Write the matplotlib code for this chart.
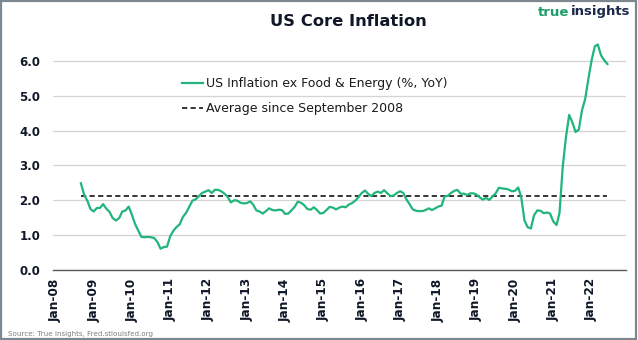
#!/usr/bin/env python3
"""US core inflation (CPI ex food & energy, YoY) vs its post-2008 average."""

import matplotlib
matplotlib.use("Agg")
import matplotlib.pyplot as plt
import pandas as pd
from matplotlib.patches import Rectangle

# Monthly YoY core CPI, Sep 2008 - Jun 2022
START_MONTH = "2008-09-01"
CORE_CPI_YOY = [
    2.49, 2.17, 1.99, 1.75,                                                    # 2008
    1.68, 1.78, 1.78, 1.89, 1.76, 1.67, 1.49, 1.42, 1.49, 1.68, 1.71, 1.82,  # 2009
    1.58, 1.31, 1.14, 0.95, 0.94, 0.95, 0.94, 0.92, 0.80, 0.61, 0.66, 0.67,  # 2010
    0.97, 1.13, 1.23, 1.31, 1.52, 1.64, 1.81, 1.99, 2.03, 2.12, 2.21, 2.25,  # 2011
    2.29, 2.21, 2.30, 2.30, 2.26, 2.19, 2.10, 1.94, 2.00, 1.99, 1.93, 1.91,  # 2012
    1.92, 1.97, 1.88, 1.71, 1.68, 1.62, 1.69, 1.77, 1.72, 1.71, 1.73, 1.72,  # 2013
    1.61, 1.62, 1.71, 1.81, 1.96, 1.93, 1.86, 1.75, 1.73, 1.80, 1.72, 1.62,  # 2014
    1.64, 1.73, 1.81, 1.79, 1.74, 1.79, 1.82, 1.80, 1.88, 1.92, 1.99, 2.09,  # 2015
    2.21, 2.28, 2.19, 2.12, 2.21, 2.25, 2.21, 2.29, 2.20, 2.12, 2.14, 2.21,  # 2016
    2.26, 2.21, 2.03, 1.89, 1.74, 1.70, 1.69, 1.69, 1.72, 1.77, 1.72, 1.77,  # 2017
    1.82, 1.85, 2.11, 2.13, 2.21, 2.27, 2.30, 2.19, 2.19, 2.15, 2.20, 2.20,  # 2018
    2.16, 2.08, 2.02, 2.07, 2.01, 2.11, 2.20, 2.36, 2.34, 2.33, 2.31, 2.26,  # 2019
    2.27, 2.37, 2.09, 1.42, 1.23, 1.19, 1.57, 1.71, 1.70, 1.63, 1.65, 1.62,  # 2020
    1.39, 1.29, 1.64, 2.97, 3.80, 4.45, 4.24, 3.96, 4.03, 4.58, 4.91, 5.48,  # 2021
    6.02, 6.42, 6.47, 6.16, 6.02, 5.91,                                      # 2022
]
AVERAGE_SINCE_SEP_2008 = 2.12

Y_TICKS = [0, 1, 2, 3, 4, 5, 6]
X_TICK_YEARS = list(range(2008, 2023))

LINE_COLOR = "#21b57b"
TEXT_COLOR = "#101828"
GRID_COLOR = "#d4d4d4"

months = pd.date_range(START_MONTH, periods=len(CORE_CPI_YOY), freq="MS")

fig = plt.figure(figsize=(6.38, 3.40), dpi=100)
fig.patch.set_facecolor("white")
ax = fig.add_axes([53 / 638, 1 - 270 / 340, (626 - 53) / 638, (270 - 40) / 340])

ax.plot(months, CORE_CPI_YOY, color=LINE_COLOR, linewidth=1.6,
        label="US Inflation ex Food & Energy (%, YoY)", zorder=3)
ax.plot([months[0], months[-1]], [AVERAGE_SINCE_SEP_2008] * 2, color="black",
        linewidth=1.1, linestyle=(0, (3.4, 2.2)),
        label="Average since September 2008", zorder=2)

ax.set_ylim(0, 6.6)
ax.set_xlim(pd.Timestamp("2007-12-10"), pd.Timestamp("2022-11-25"))
ax.set_yticks(Y_TICKS)
ax.set_yticklabels([f"{v:.1f}" for v in Y_TICKS])
tick_dates = [pd.Timestamp(f"{y}-01-01") for y in X_TICK_YEARS]
ax.set_xticks(tick_dates)
ax.set_xticklabels([f"Jan-{y % 100:02d}" for y in X_TICK_YEARS], rotation=90)

ax.grid(axis="y", color=GRID_COLOR, linewidth=0.9)
ax.set_axisbelow(True)
for side in ("left", "right", "top"):
    ax.spines[side].set_visible(False)
ax.spines["bottom"].set_color("#595959")
ax.spines["bottom"].set_linewidth(1.0)
ax.tick_params(axis="both", length=0, colors=TEXT_COLOR)
ax.tick_params(axis="y", pad=9)
ax.tick_params(axis="x", pad=6)
for lbl in ax.get_yticklabels():
    lbl.set_fontsize(8.5)
    lbl.set_fontweight("bold")
for lbl in ax.get_xticklabels():
    lbl.set_fontsize(8.7)
    lbl.set_fontweight("bold")

fig.legend(loc="upper left", bbox_to_anchor=(182 / 638, 1 - 77 / 340),
           frameon=False, fontsize=9, handlelength=1.7, handletextpad=0.2,
           labelspacing=0.95, borderpad=0, borderaxespad=0, labelcolor="#1a1a1a")

fig.text(348 / 638, 1 - 21 / 340, "US Core Inflation", ha="center", va="center",
         fontsize=11.8, fontweight="bold", color=TEXT_COLOR)
logo = fig.text(538 / 638, 1 - 12 / 340, "true", ha="left", va="center",
                fontsize=9.5, fontweight="bold", color="#1f9d69")
fig.canvas.draw()
bb = logo.get_window_extent()
fig.text(bb.x1 / 638 + 1 / 638, 1 - 12 / 340, "insights", ha="left", va="center",
         fontsize=9.5, fontweight="bold", color="#1b2a4a")

fig.text(8 / 638, 1 - 334 / 340, "Source: True Insights, Fred.stlouisfed.org",
         ha="left", va="center", fontsize=5.1, color="#7f7f7f")

fig.add_artist(Rectangle((0.001, 0.002), 0.996, 0.995, transform=fig.transFigure,
                         fill=False, edgecolor="#7d8790", linewidth=1.6))

fig.savefig("out.png", dpi=100, facecolor=fig.get_facecolor())
